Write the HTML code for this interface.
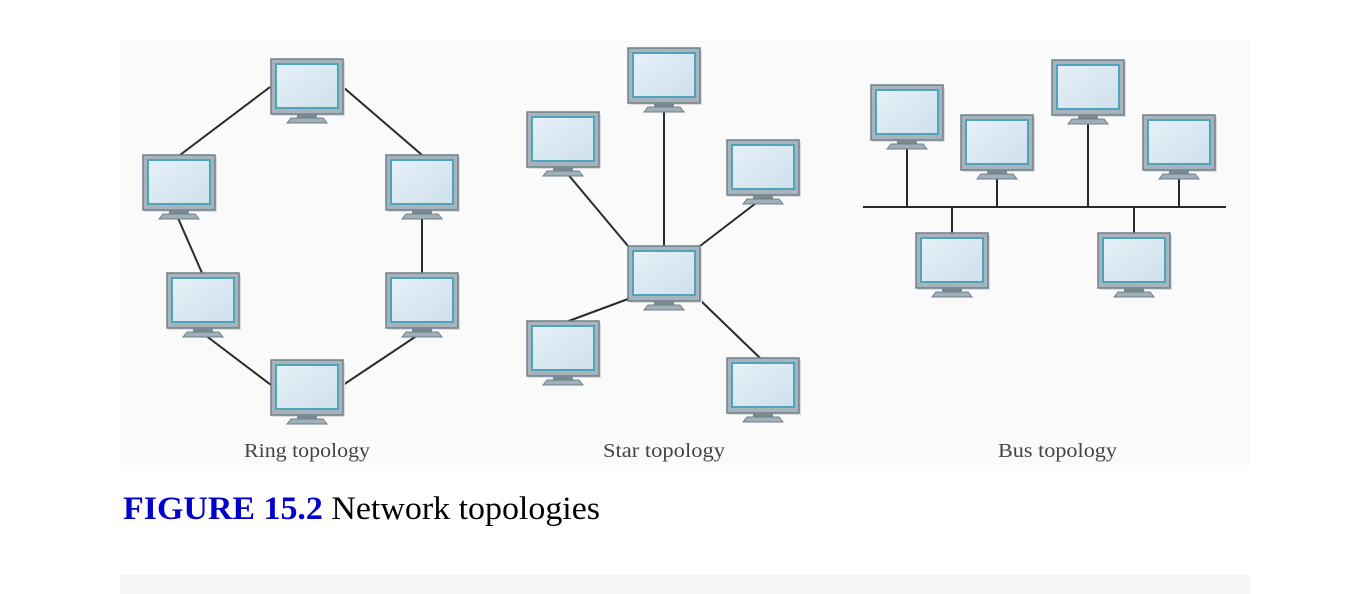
<!DOCTYPE html>
<html><head><meta charset="utf-8"><style>
html,body{margin:0;padding:0;background:#fff;}
body{width:1370px;height:594px;position:relative;overflow:hidden;}
svg{position:absolute;left:0;top:0;}
</style></head><body>
<svg width="1370" height="594" viewBox="0 0 1370 594">
<defs>
<linearGradient id="scr" x1="0" y1="0" x2="1" y2="1"><stop offset="0" stop-color="#e6f0f7"/><stop offset="1" stop-color="#cfe0ec"/></linearGradient>
<g id="mon">
<rect x="2" y="2" width="72" height="55" fill="#dcdcdc"/>
<rect x="0" y="0" width="72" height="55" fill="#a8b4bb" stroke="#6f7f88" stroke-width="1.5"/>
<rect x="4" y="4" width="64" height="46" fill="#4fa3bd"/>
<rect x="6" y="6" width="60" height="42" fill="url(#scr)"/>
<rect x="26" y="55" width="20" height="4" fill="#7a8a92"/>
<path d="M16 64 L20 59 L52 59 L56 64 Z" fill="#9fb0b8" stroke="#6f7f88" stroke-width="1"/>
</g>
</defs>
<rect x="120" y="40" width="1130" height="425" fill="#fafafa"/>
<rect x="120" y="575" width="1130" height="19" fill="#f6f6f6"/>
<g stroke="#2a2a2a" stroke-width="2" fill="none">
<line x1="270" y1="87" x2="180" y2="155"/>
<line x1="343" y1="87" x2="422" y2="155"/>
<line x1="178" y1="218" x2="202" y2="273"/>
<line x1="422" y1="218" x2="422" y2="273"/>
<line x1="205" y1="335" x2="271" y2="385"/>
<line x1="418" y1="335" x2="343" y2="385"/>
<line x1="628" y1="246" x2="566" y2="172"/>
<line x1="664" y1="246" x2="664" y2="112"/>
<line x1="700" y1="246" x2="760" y2="200"/>
<line x1="628" y1="299" x2="566" y2="322"/>
<line x1="700" y1="300" x2="760" y2="358"/>
<line x1="863" y1="207" x2="1226" y2="207"/>
<line x1="907" y1="148" x2="907" y2="207"/>
<line x1="997" y1="178" x2="997" y2="207"/>
<line x1="1088" y1="123" x2="1088" y2="207"/>
<line x1="1179" y1="178" x2="1179" y2="207"/>
<line x1="952" y1="207" x2="952" y2="233"/>
<line x1="1134" y1="207" x2="1134" y2="233"/>
</g>
<use href="#mon" x="271" y="59"/>
<use href="#mon" x="143" y="155"/>
<use href="#mon" x="386" y="155"/>
<use href="#mon" x="167" y="273"/>
<use href="#mon" x="386" y="273"/>
<use href="#mon" x="271" y="360"/>
<use href="#mon" x="628" y="48"/>
<use href="#mon" x="527" y="112"/>
<use href="#mon" x="727" y="140"/>
<use href="#mon" x="628" y="246"/>
<use href="#mon" x="527" y="321"/>
<use href="#mon" x="727" y="358"/>
<use href="#mon" x="871" y="85"/>
<use href="#mon" x="961" y="115"/>
<use href="#mon" x="1052" y="60"/>
<use href="#mon" x="1143" y="115"/>
<use href="#mon" x="916" y="233"/>
<use href="#mon" x="1098" y="233"/>
<g font-family="Liberation Serif, serif" font-size="20" fill="#444">
<text x="244" y="457" textLength="126" lengthAdjust="spacingAndGlyphs">Ring topology</text>
<text x="603" y="457" textLength="122" lengthAdjust="spacingAndGlyphs">Star topology</text>
<text x="998" y="457" textLength="119" lengthAdjust="spacingAndGlyphs">Bus topology</text>
</g>
<text x="123" y="519" font-family="Liberation Serif, serif" font-size="33" textLength="477" lengthAdjust="spacingAndGlyphs"><tspan fill="#0000cc" font-weight="bold">FIGURE 15.2</tspan><tspan fill="#000"> Network topologies</tspan></text>
</svg>
</body></html>
